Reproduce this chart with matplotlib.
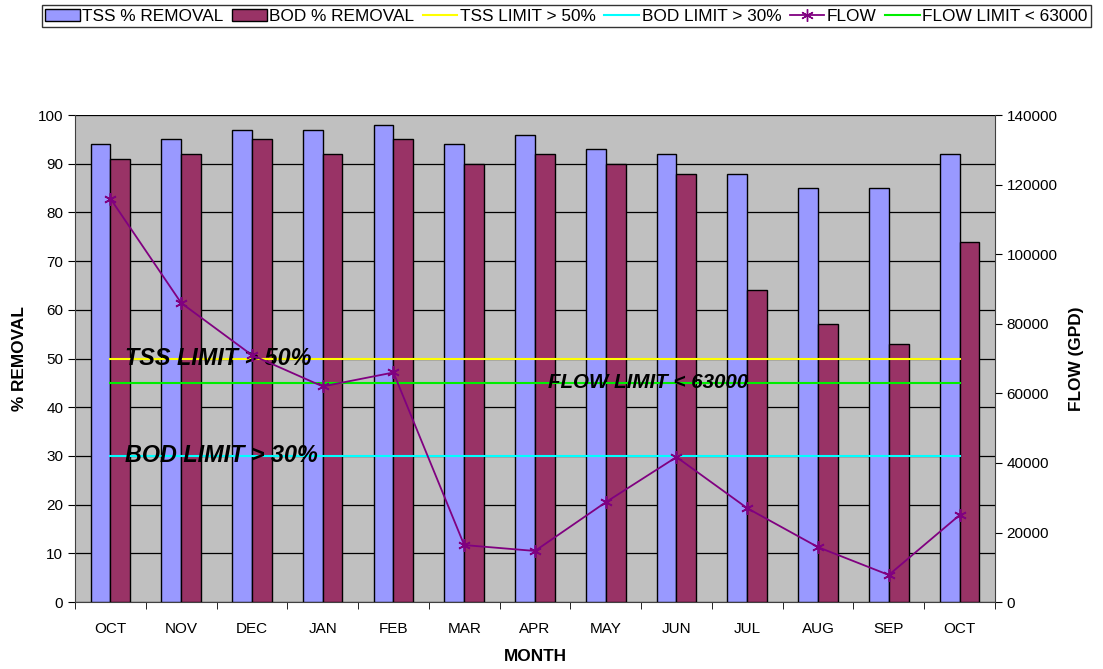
import matplotlib
matplotlib.use("Agg")
import matplotlib.pyplot as plt
import numpy as np
from matplotlib.lines import Line2D
from matplotlib.patches import Patch

plt.rcParams['font.family'] = ['Liberation Sans', 'DejaVu Sans']

months = ["OCT", "NOV", "DEC", "JAN", "FEB", "MAR", "APR", "MAY", "JUN", "JUL", "AUG", "SEP", "OCT"]
tss = [94, 95, 97, 97, 98, 94, 96, 93, 92, 88, 85, 85, 92]
bod = [91, 92, 95, 92, 95, 90, 92, 90, 88, 64, 57, 53, 74]
flow = [116000, 86000, 71000, 62000, 66000, 16400, 14700, 28700, 41700, 27000, 15800, 7800, 25000]
tss_limit = 50
bod_limit = 30
flow_limit = 63000

fig = plt.figure(figsize=(11.03, 6.69), dpi=100)
ax = fig.add_axes([0.068, 0.100, 0.834, 0.728])
ax.set_facecolor('#C0C0C0')
x = np.arange(len(months))
w = 0.28
ax.bar(x - w/2, tss, w, color='#9999FF', edgecolor='black', linewidth=1.0, zorder=3)
ax.bar(x + w/2, bod, w, color='#993366', edgecolor='black', linewidth=1.0, zorder=3)
ax.set_xlim(-0.5, len(months) - 0.5)
ax.set_ylim(0, 100)
ax.set_yticks(range(0, 101, 10))
ax.yaxis.grid(True, color='black', linewidth=0.9, zorder=1)
ax.set_axisbelow(True)
ax.plot([0, len(months) - 1], [tss_limit, tss_limit], color='#FFFF00', linewidth=1.5, zorder=4)
ax.plot([0, len(months) - 1], [bod_limit, bod_limit], color='#00FFFF', linewidth=1.5, zorder=4)

ax.set_xticks(x)
ax.set_xticklabels(months, fontsize=11)
ax.tick_params(axis='x', which='major', length=0, pad=14)
ax.set_xticks(np.arange(-0.5, len(months), 1), minor=True)
ax.tick_params(axis='x', which='minor', length=5, direction='out')
ax.tick_params(axis='y', labelsize=11, length=5)
ax.spines['top'].set_visible(False)
ax.spines['right'].set_visible(False)
ax.spines['left'].set_color('#404040')
ax.spines['bottom'].set_color('#404040')
ax.set_xlabel('MONTH', fontsize=12.4, fontweight='bold', labelpad=10)
ax.set_ylabel('% REMOVAL', fontsize=12.4, fontweight='bold', labelpad=8)

ax2 = ax.twinx()
ax2.set_ylim(0, 140000)
ax2.set_yticks(range(0, 140001, 20000))
ax2.tick_params(axis='y', labelsize=11, length=5)
for s in ['top', 'left', 'bottom']:
    ax2.spines[s].set_visible(False)
ax2.spines['right'].set_color('#404040')
ax2.plot([0, len(months) - 1], [flow_limit, flow_limit], color='#00EE00', linewidth=1.5, zorder=4)
ax2.plot(x, flow, color='#800080', linewidth=1.3, marker=(6, 2, 0), markersize=9,
         markeredgewidth=1.2, zorder=5)
ax2.set_ylabel('FLOW (GPD)', fontsize=12.4, fontweight='bold', labelpad=8)

ax.text(0.2, tss_limit, 'TSS LIMIT > 50%', fontsize=16.8, fontweight='bold', style='italic',
        va='center', ha='left', zorder=6)
ax.text(0.2, bod_limit, 'BOD LIMIT > 30%', fontsize=16.8, fontweight='bold', style='italic',
        va='center', ha='left', zorder=6)
ax2.text(6.18, flow_limit, 'FLOW LIMIT < 63000', fontsize=14.8, fontweight='bold', style='italic',
         va='center', ha='left', zorder=6)

handles = [Patch(facecolor='#9999FF', edgecolor='black'),
           Patch(facecolor='#993366', edgecolor='black'),
           Line2D([], [], color='#FFFF00', linewidth=1.5),
           Line2D([], [], color='#00FFFF', linewidth=1.5),
           Line2D([], [], color='#800080', linewidth=1.3, marker=(6, 2, 0), markersize=9),
           Line2D([], [], color='#00EE00', linewidth=1.5)]
labels = ['TSS % REMOVAL', 'BOD % REMOVAL', 'TSS LIMIT > 50%', 'BOD LIMIT > 30%', 'FLOW',
          'FLOW LIMIT < 63000']
leg = fig.legend(handles, labels, loc='upper center', bbox_to_anchor=(0.5136, 0.997), ncol=6,
                 fontsize=12.4, frameon=True, fancybox=False, edgecolor='black',
                 handlelength=2.0, handletextpad=0.15, columnspacing=0.5, borderpad=0.2,
                 borderaxespad=0.2)
leg.get_frame().set_linewidth(1.0)

fig.savefig('out.png', dpi=100)
